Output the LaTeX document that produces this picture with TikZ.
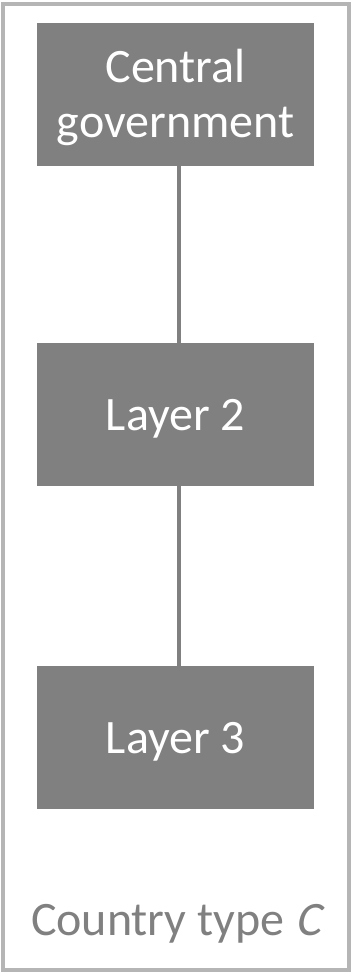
\documentclass[tikz,border=0pt]{standalone}
\usepackage{fontspec}
\setmainfont{Carlito}
\newfontfamily\slantC{Carlito}[FakeSlant=0.2]
\definecolor{boxgray}{HTML}{808080}
\definecolor{framegray}{HTML}{B5B5B5}
\begin{document}
\begin{tikzpicture}[x=0.5pt,y=-0.5pt,
  layer/.style={fill=boxgray, text=white, minimum width=138.5pt, minimum height=71.5pt,
    align=center, inner sep=0pt, text height=20pt, text depth=4.5pt,
    font=\fontsize{24}{27.5}\selectfont},
  link/.style={draw=boxgray, line width=2pt}]
  \useasboundingbox (0,0) rectangle (357,974);
  \draw[framegray, line width=2pt] (3,4) rectangle (348.5,969.5);
  \node[layer, text height=47.5pt] (cg) at (175.5,94.5) {Central\\government};
  \node[layer] (l2) at (175.5,414.5) {Layer 2};
  \node[layer] (l3) at (175.5,737.5) {Layer 3};
  \draw[link] ([xshift=1.5pt]cg.south) -- ([xshift=1.5pt]l2.north)
    ([xshift=1.5pt]l2.south) -- ([xshift=1.5pt]l3.north);
  \node[text=boxgray, font=\fontsize{24}{27.5}\selectfont, anchor=base] (type) at (176,935) {Country type {\slantC C}};
\end{tikzpicture}
\end{document}
